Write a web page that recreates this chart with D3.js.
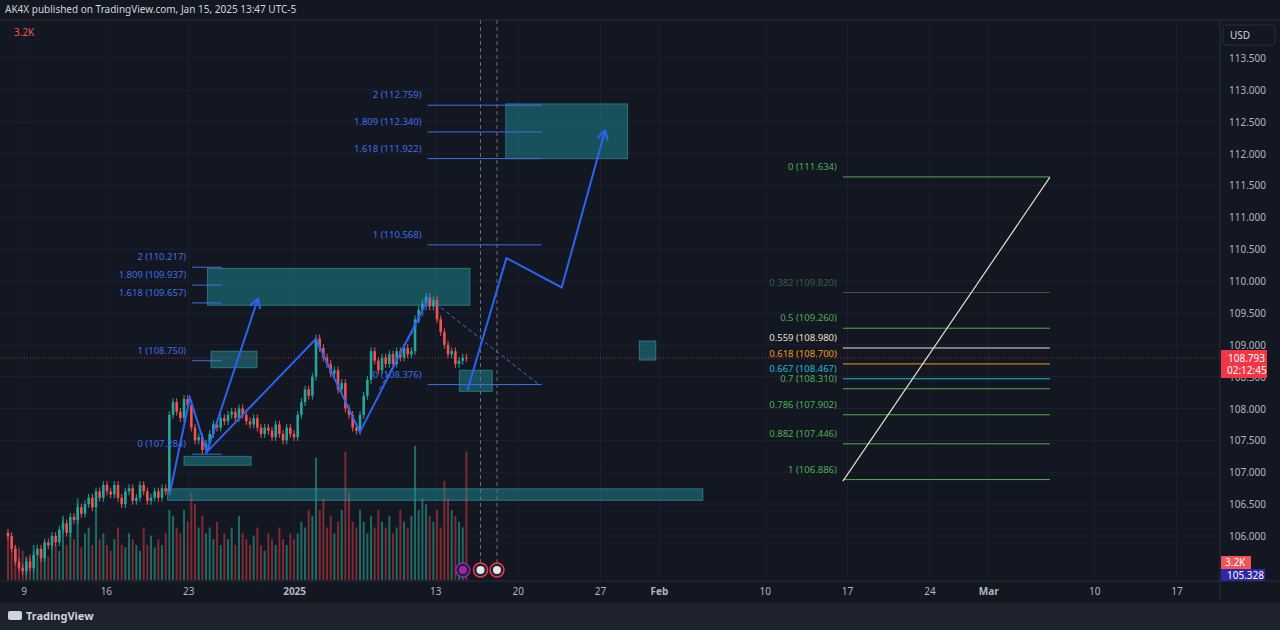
<!DOCTYPE html>
<html><head><meta charset="utf-8">
<script src="https://cdn.jsdelivr.net/npm/d3@7"></script>
<style>body{margin:0;background:#131722;overflow:hidden}svg{display:block;font-family:"Noto Sans",Roboto,sans-serif}</style>
</head><body><svg id="c" width="1280" height="630"></svg>
<script>
// ---- data ----
const closes=[106.0,105.8,105.6,105.5,105.45,
105.6,105.5,105.7,105.8,105.65,105.9,105.85,106.0,105.9,106.1,
106.2,106.05,106.3,106.25,106.45,106.35,106.5,106.6,106.45,106.7,106.6,
106.8,106.7,106.65,106.8,106.6,106.5,106.7,106.75,106.55,106.6,106.8,106.7,106.55,106.6,106.7,106.6,106.75,106.7,
107.9,108.1,107.95,107.85,108.15,108.05,107.7,107.5,107.55,
107.35,107.45,
107.6,107.75,107.7,107.85,107.8,107.9,107.95,107.85,108.0,107.9,107.8,107.75,107.85,107.7,107.6,107.7,107.65,107.55,107.75,107.6,107.5,107.7,107.6,107.55,
107.9,108.1,108.3,108.2,108.5,109.1,108.95,
108.8,108.7,108.55,108.6,108.3,108.4,108.0,107.9,107.7,107.65,
107.9,108.2,108.45,108.9,108.75,108.6,108.8,108.7,108.85,108.7,108.9,108.8,108.95,108.85,108.9,
109.4,109.55,109.65,109.75,109.6,109.7,109.4,109.2,
109.0,108.85,108.9,108.7,108.75,108.8,108.793];
const volumes=[40,35,30,28,25,20,22,30,18,25,28,20,35,30,25,
55,30,40,35,70,28,40,45,30,60,35,
40,30,25,35,45,30,28,40,35,30,25,45,30,38,28,35,30,40,
60,55,45,40,60,50,75,65,45,
55,40,
45,35,50,30,40,35,45,30,55,40,35,30,38,45,30,25,40,35,30,45,35,30,40,35,
40,50,45,60,55,105,60,
70,45,55,40,50,60,110,75,50,45,
60,50,40,55,45,60,50,45,55,40,45,60,50,45,55,
115,60,70,65,55,50,60,45,
85,70,60,55,50,45,110];
const xTicks=[{d:0,t:"9"},{d:7,t:"16"},{d:14,t:"23"},{d:23,t:"2025",b:true},{d:35,t:"13"},{d:42,t:"20"},{d:49,t:"27"},{d:54,t:"Feb",b:true},{d:63,t:"10"},{d:70,t:"17"},{d:77,t:"24"},{d:82,t:"Mar",b:true},{d:91,t:"10"},{d:98,t:"17"}];
const yTicks=[106,106.5,107,107.5,108,108.5,109,109.5,110,110.5,111,111.5,112,112.5,113,113.5];
const zig1=[[12.4,106.67],[14.1,108.17],[15.55,107.32],[19.9,109.73]];
const zig2=[[15.55,107.32],[24.8,109.09],[28.55,107.63],[34.5,109.77]];
const proj=[[37.7,108.29],[41.0,110.36],[45.7,109.9],[49.4,112.37]];
const dashed=[[[34.5,109.72],[43.8,108.37]],[[30.2,108.3],[34.3,109.6]]];
const boxes=[[40.95,51.3,112.78,111.92],[15.6,37.9,110.2,109.62],[15.9,19.8,108.9,108.64],[13.6,19.3,107.25,107.11],[37.0,39.8,108.6,108.27],[52.3,53.7,109.06,108.76],[12.2,57.7,106.74,106.56]];
const fibA={d0:14.3,d1:16.8,lv:[["2 (110.217)",110.217],["1.809 (109.937)",109.937],["1.618 (109.657)",109.657],["1 (108.750)",108.75],["0 (107.284)",107.284]]};
const fibB={d0:34.3,d1:44,lv:[["2 (112.759)",112.759],["1.809 (112.340)",112.34],["1.618 (111.922)",111.922],["1 (110.568)",110.568],["0 (108.376)",108.376]]};
const fibC={d0:69.6,d1:87.2,lv:[["0 (111.634)",111.634,"#4caf50"],["0.382 (109.820)",109.82,"#3d5a45"],["0.5 (109.260)",109.26,"#4caf50"],["0.559 (108.980)",108.95,"#e6e1d0"],["0.618 (108.700)",108.7,"#f09a1a"],["0.667 (108.467)",108.467,"#1fb7d4"],["0.7 (108.310)",108.31,"#4caf50"],["0.786 (107.902)",107.902,"#4caf50"],["0.882 (107.446)",107.446,"#4caf50"],["1 (106.886)",106.886,"#4caf50"]]};
const diag=[[69.6,106.86],[87.2,111.63]];
const vlines=[38.8,40.2];
const last=108.793;

// ---- drawing ----
const svg=d3.select("#c");
const W=1280,axisX=1220,bottom=580;
const x=d3.scaleLinear().domain([0,98]).range([24,1177]);
const y=d3.scaleLinear().domain([106,113.5]).range([536,58]);
const ci=d3.scaleLinear().domain([0,closes.length-1]).range([-1.36,37.6]);
const v=d3.scaleLinear().domain([0,120]).range([bottom,440]);
svg.append("rect").attr("width",W).attr("height",630).attr("fill","#131722");
const g=svg.append("g");
g.selectAll(".vg").data(xTicks).join("line").attr("x1",d=>x(d.d)).attr("x2",d=>x(d.d)).attr("y1",20).attr("y2",bottom).attr("stroke","#1c2030");
g.selectAll(".hg").data(yTicks).join("line").attr("x1",0).attr("x2",axisX).attr("y1",d=>y(d)).attr("y2",d=>y(d)).attr("stroke","#1c2030");
closes.forEach((c,i)=>{const o=i?closes[i-1]:c+0.05;const up=c>=o;
 g.append("rect").attr("x",x(ci(i))-1).attr("width",2).attr("y",v(volumes[i])).attr("height",bottom-v(volumes[i])).attr("fill",up?"#1f6b63":"#7d2b32");});
g.selectAll(".bx").data(boxes).join("rect").attr("x",d=>x(d[0])).attr("width",d=>x(d[1])-x(d[0])).attr("y",d=>y(d[2])).attr("height",d=>y(d[3])-y(d[2])).attr("fill","rgba(30,140,150,0.5)").attr("stroke","rgba(60,170,175,0.55)");
closes.forEach((c,i)=>{const o=i?closes[i-1]:c+0.05;const up=c>=o;const col=up?"#26a69a":"#ef5350";
 const hi=Math.max(o,c)+0.06,lo=Math.min(o,c)-0.06;const cx=x(ci(i));
 g.append("line").attr("x1",cx).attr("x2",cx).attr("y1",y(hi)).attr("y2",y(lo)).attr("stroke",col);
 g.append("rect").attr("x",cx-1.3).attr("width",2.6).attr("y",y(Math.max(o,c))).attr("height",Math.max(1,y(Math.min(o,c))-y(Math.max(o,c)))).attr("fill",col);});
g.selectAll(".vl").data(vlines).join("line").attr("x1",d=>x(d)).attr("x2",d=>x(d)).attr("y1",20).attr("y2",bottom).attr("stroke","#6a6d78").attr("stroke-dasharray","4,3");
g.append("line").attr("x1",0).attr("x2",axisX).attr("y1",y(last)).attr("y2",y(last)).attr("stroke","#f23645").attr("stroke-dasharray","1,2").attr("opacity",0.7);
function fib(f,col){f.lv.forEach(l=>{const c=l[2]||col;
 g.append("line").attr("x1",x(f.d0)).attr("x2",x(f.d1)).attr("y1",y(l[1])).attr("y2",y(l[1])).attr("stroke",c).attr("stroke-width",1);
 g.append("text").attr("x",x(f.d0)-6).attr("y",y(l[1])-7).attr("text-anchor","end").attr("fill",c).attr("font-size",9.5).text(l[0]);});}
fib(fibA,"#3d6fe8");fib(fibB,"#3d6fe8");fib(fibC,"#4caf50");
g.append("line").attr("x1",x(diag[0][0])).attr("y1",y(diag[0][1])).attr("x2",x(diag[1][0])).attr("y2",y(diag[1][1])).attr("stroke","#e6e1c8").attr("stroke-width",1.2);
dashed.forEach(s=>g.append("line").attr("x1",x(s[0][0])).attr("y1",y(s[0][1])).attr("x2",x(s[1][0])).attr("y2",y(s[1][1])).attr("stroke","#3d6fe8").attr("stroke-dasharray","4,3"));
const line=d3.line().x(d=>x(d[0])).y(d=>y(d[1]));
function arrow(pts){g.append("path").attr("d",line(pts)).attr("fill","none").attr("stroke","#2e62f0").attr("stroke-width",2);
 const a=pts[pts.length-2],b=pts[pts.length-1];const ax=x(a[0]),ay=y(a[1]),bx=x(b[0]),by=y(b[1]);const ang=Math.atan2(by-ay,bx-ax);
 [0.5,-0.5].forEach(s=>g.append("line").attr("x1",bx).attr("y1",by).attr("x2",bx-11*Math.cos(ang+s)).attr("y2",by-11*Math.sin(ang+s)).attr("stroke","#2e62f0").attr("stroke-width",2));}
arrow(zig1);
g.append("path").attr("d",line(zig2)).attr("fill","none").attr("stroke","#2e62f0").attr("stroke-width",2);
arrow(proj);
[[37.3,"#9c27b0"],[38.8,"#f23645"],[40.2,"#f23645"]].forEach(e=>{g.append("circle").attr("cx",x(e[0])).attr("cy",570).attr("r",7).attr("fill","#1e222d").attr("stroke",e[1]).attr("stroke-width",1.5);
 g.append("circle").attr("cx",x(e[0])).attr("cy",570).attr("r",4).attr("fill",e[1]==="#f23645"?"#e0e3eb":"#9c27b0");});
svg.append("rect").attr("x",axisX).attr("y",0).attr("width",60).attr("height",600).attr("fill","#131722");
svg.append("line").attr("x1",axisX).attr("x2",axisX).attr("y1",20).attr("y2",600).attr("stroke","#2a2e39");
svg.selectAll(".yt").data(yTicks).join("text").attr("x",1229).attr("y",d=>y(d)+4).attr("fill","#b2b5be").attr("font-size",10).text(d=>d.toFixed(3));
svg.append("rect").attr("x",1223).attr("y",25).attr("width",52).attr("height",20).attr("rx",3).attr("fill","#131722").attr("stroke","#2a2e39");
svg.append("text").attr("x",1230).attr("y",39).attr("fill","#d1d4dc").attr("font-size",10).text("USD");
svg.append("rect").attr("x",1221).attr("y",y(last)-8).attr("width",46).attr("height",28).attr("fill","#f23645");
svg.append("text").attr("x",1228).attr("y",y(last)+4).attr("fill","#fff").attr("font-size",10).text("108.793");
svg.append("text").attr("x",1227).attr("y",y(last)+16).attr("fill","#fff").attr("font-size",10).text("02:12:45");
svg.append("rect").attr("x",1221).attr("y",556).attr("width",30).attr("height",13).attr("fill","#f05454");
svg.append("text").attr("x",1225).attr("y",566).attr("fill","#fff").attr("font-size",10).text("3.2K");
svg.append("rect").attr("x",1221).attr("y",569).attr("width",44).attr("height",12).attr("fill","#2e27a8");
svg.append("text").attr("x",1227).attr("y",579).attr("fill","#fff").attr("font-size",10).text("105.328");
svg.append("line").attr("x1",0).attr("x2",W).attr("y1",bottom+1).attr("y2",bottom+1).attr("stroke","#2a2e39");
svg.selectAll(".xt").data(xTicks).join("text").attr("x",d=>x(d.d)).attr("y",595).attr("text-anchor","middle").attr("fill","#b2b5be").attr("font-size",10).attr("font-weight",d=>d.b?"bold":"normal").text(d=>d.t);
svg.append("line").attr("x1",0).attr("x2",W).attr("y1",20).attr("y2",20).attr("stroke","#2a2e39");
svg.append("text").attr("x",5).attr("y",13).attr("fill","#d1d4dc").attr("font-size",10).text("AK4X published on TradingView.com, Jan 15, 2025 13:47 UTC-5");
svg.append("text").attr("x",14).attr("y",36).attr("fill","#f05454").attr("font-size",10).text("3.2K");
svg.append("rect").attr("x",0).attr("y",603).attr("width",W).attr("height",27).attr("fill","#1e222d");
svg.append("rect").attr("x",8).attr("y",611).attr("width",14).attr("height",9).attr("rx",2).attr("fill","#d1d4dc");
svg.append("text").attr("x",26).attr("y",620).attr("fill","#d1d4dc").attr("font-size",11).attr("font-weight","bold").text("TradingView");
</script></body></html>
